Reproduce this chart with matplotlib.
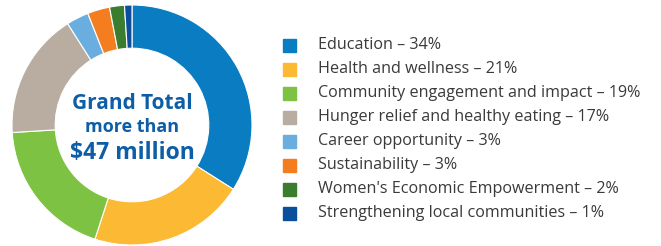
import matplotlib.pyplot as plt
from matplotlib.patches import Rectangle

# дані
categories = ['Education', 'Health and wellness', 'Community engagement and impact',
              'Hunger relief and healthy eating', 'Career opportunity', 'Sustainability',
              "Women's Economic Empowerment", 'Strengthening local communities']
shares = [34, 21, 19, 17, 3, 3, 2, 1]
colors = ['#0a7dc2', '#fbb934', '#7dc242', '#b8ada0', '#6aaee0', '#f47d20', '#3a7d2e', '#0b4f9c']

fig = plt.figure(figsize=(6.61, 2.46), dpi=100)

# кільцева діаграма
ax = fig.add_axes([12/661, 1 - 245/246, 240/661, 240/246])
ax.pie(shares, colors=colors, startangle=90, counterclock=False,
       wedgeprops=dict(width=0.36, edgecolor='white', linewidth=0.8))
ax.set_xlim(-1, 1)
ax.set_ylim(-1, 1)
ax.set_aspect('equal')

blue = '#0d5ea6'
ax.text(0, 0.18, 'Grand Total', ha='center', va='center', fontsize=15,
        fontweight='bold', color=blue, family='Open Sans')
ax.text(0, -0.02, 'more than', ha='center', va='center', fontsize=13,
        fontweight='bold', color=blue, family='Open Sans')
ax.text(0, -0.23, '$47 million', ha='center', va='center', fontsize=16.5,
        fontweight='bold', color=blue, family='Open Sans')

# легенда
lax = fig.add_axes([0, 0, 1, 1])
lax.set_xlim(0, 661)
lax.set_ylim(246, 0)
lax.axis('off')
for i, (c, s, col) in enumerate(zip(categories, shares, colors)):
    y = 45 + i * 24
    lax.add_patch(Rectangle((283, y - 6.5), 13, 13, color=col))
    lax.text(318, y, f'{c} \u2013 {s}%', va='center', ha='left', fontsize=11.6,
             color='#3a3a3a', family='Open Sans')

fig.savefig('out.png', dpi=100)
